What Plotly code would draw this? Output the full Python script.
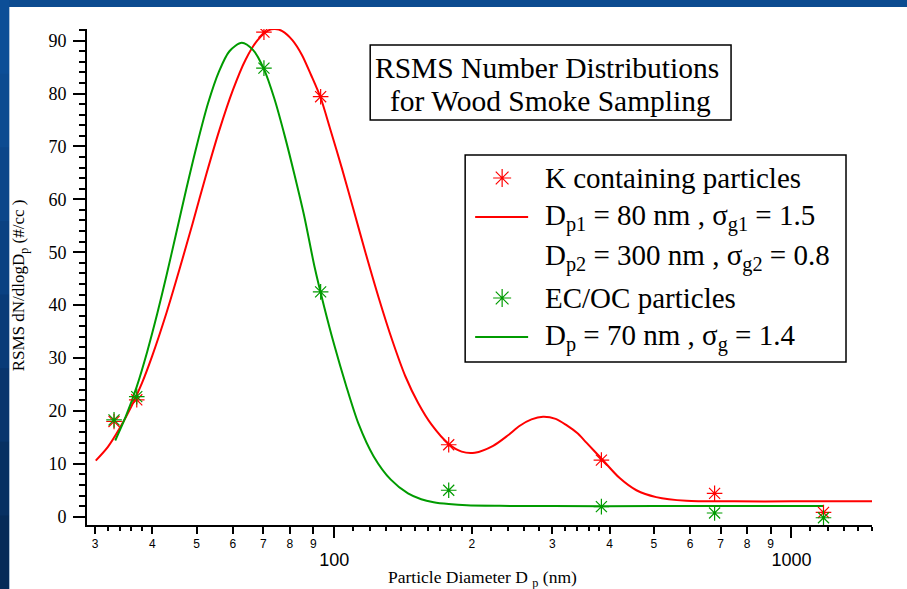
import plotly.graph_objects as go

# Measured RSMS number distributions (diameter in nm, dN/dlogDp in #/cc)
k_diam = [33.0, 37.0, 70.2, 93.4, 178, 384, 679, 1175]
k_conc = [18.0, 22.1, 91.6, 79.4, 13.6, 10.7, 4.4, 0.8]
ecoc_diam = [33.0, 37.0, 70.2, 93.4, 178, 384, 679, 1175]
ecoc_conc = [18.3, 22.7, 84.8, 42.5, 5.0, 1.9, 0.7, -0.2]

# Bimodal lognormal fit for K containing particles
k_fit_diam = [30.1, 32, 34, 36, 38, 40, 43, 46, 49, 52.5, 56, 60, 64, 68, 72,
              74.2, 77, 81, 85, 89, 93.4, 98, 104, 110, 117, 125, 134, 143,
              152.6, 163.3, 177.8, 190, 203, 222.6, 240, 254.6, 270, 286.2,
              305, 322.1, 340, 356.1, 384, 421, 458, 506, 589, 750, 1000, 1500]
k_fit_conc = [10.6, 13.2, 16.8, 20.8, 25.3, 30.4, 38.6, 47.1, 55.4, 64.7, 72.9,
              80.6, 86.4, 90.1, 92.0, 92.2, 91.8, 90.1, 87.3, 83.5, 79.2, 73.3,
              65.8, 58.3, 50.0, 41.5, 33.3, 26.6, 21.5, 17.4, 13.8, 12.3, 12.1,
              13.4, 15.4, 17.2, 18.4, 18.9, 18.5, 17.3, 15.8, 14.0, 11.0, 7.3,
              5.0, 3.7, 3.0, 2.9, 2.9, 2.9]

# Single-mode lognormal fit for EC/OC particles
ecoc_fit_diam = [33.2, 35, 37, 39, 41, 43, 45, 47.5, 50, 53, 56, 59, 62.8, 66.5,
                 70.2, 74, 78, 82, 86, 90.7, 95, 100, 106, 113, 122, 133, 145,
                 155, 165, 178, 195, 230, 300, 500, 800, 1175]
ecoc_fit_conc = [14.4, 18.9, 24.6, 31.2, 38.3, 45.7, 53.1, 62.0, 70.0, 78.2,
                 84.2, 88.0, 89.6, 88.2, 84.6, 79.0, 71.9, 64.4, 56.8, 47.0,
                 39.8, 32.5, 25.0, 17.6, 11.4, 7.0, 4.4, 3.3, 2.75, 2.4, 2.15,
                 2.05, 2.0, 2.0, 2.0, 2.0]

# Axis ticks
x_label_vals = [30, 40, 50, 60, 70, 80, 90, 200, 300, 400, 500, 600, 700, 800, 900]
x_label_text = ["3", "4", "5", "6", "7", "8", "9", "2", "3", "4", "5", "6", "7", "8", "9"]
x_minor_vals = [32, 34, 36, 38, 110, 120, 130, 140, 150, 160, 170, 180, 190,
                220, 240, 260, 280, 320, 340, 360, 380, 1100, 1200, 1300, 1400, 1500]
x_decade_vals = [100, 1000]
x_decade_text = ["100", "1000"]

legend_rows = [
    ("K containing particles", "marker", "red"),
    ("D<sub>p1</sub> = 80 nm , σ<sub>g1</sub> = 1.5", "line", "red"),
    ("D<sub>p2</sub> = 300 nm , σ<sub>g2</sub> = 0.8", None, None),
    ("EC/OC particles", "marker", "green"),
    ("D<sub>p</sub> = 70 nm , σ<sub>g</sub> = 1.4", "line", "green"),
]

RED = "#ff0000"
GREEN = "#009b00"
SERIF = "Liberation Serif, Times New Roman, serif"
SANS = "Liberation Sans, Arial, sans-serif"
COLORS = {"red": RED, "green": GREEN}

# slide background shades, top to bottom along the left edge
slide_blues = ["#0c4e97", "#0c4b91", "#0b468a", "#0a4182", "#093b78",
               "#08356d", "#073062", "#062b58"]

W, H = 907, 589
L, R, T, B = 86.7, 872.0, 29.0, 525.0   # plot area edges in pixels
X_RANGE = [1.4594, 3.1761]               # log10(nm)
Y_RANGE = [-1.57, 92.2]


def px(xp):
    return (xp - L) / (R - L)


def py(yp):
    return (B - yp) / (B - T)


fig = go.Figure()

fig.add_trace(go.Scatter(x=k_fit_diam, y=k_fit_conc, mode="lines",
                         line=dict(color=RED, width=2, shape="spline", smoothing=0.8),
                         showlegend=False))
fig.add_trace(go.Scatter(x=ecoc_fit_diam, y=ecoc_fit_conc, mode="lines",
                         line=dict(color=GREEN, width=2, shape="spline", smoothing=0.8),
                         showlegend=False))
fig.add_trace(go.Scatter(x=k_diam, y=k_conc, mode="markers",
                         marker=dict(symbol="asterisk-open", size=13, color=RED,
                                     line=dict(color=RED, width=1.2)),
                         showlegend=False))
fig.add_trace(go.Scatter(x=ecoc_diam, y=ecoc_conc, mode="markers",
                         marker=dict(symbol="asterisk-open", size=13, color=GREEN,
                                     line=dict(color=GREEN, width=1.2)),
                         showlegend=False))
# carrier for the decade tick axis
fig.add_trace(go.Scatter(x=[100], y=[None], xaxis="x2", yaxis="y",
                         mode="markers", showlegend=False, hoverinfo="skip"))

shapes = []
# darkening blue bands along the left edge of the slide
band_h = H / len(slide_blues)
for i, col in enumerate(slide_blues):
    shapes.append(dict(type="rect", xref="paper", yref="paper", x0=px(-5), x1=px(9),
                       y0=py(i * band_h), y1=py((i + 1) * band_h + 1),
                       fillcolor=col, line=dict(width=0), layer="below"))

# Legend drawn inside a framed box
leg_x0, leg_x1, leg_y0, leg_y1 = 465, 846, 155, 362
row_y = [178, 217, 257, 298, 337]
shapes += [
    # white page on the blue slide
    dict(type="rect", xref="paper", yref="paper", x0=px(9), x1=px(W + 5),
         y0=py(7), y1=py(H + 5), fillcolor="white", line=dict(width=0), layer="below"),
    # title frame
    dict(type="rect", xref="paper", yref="paper", x0=px(370), x1=px(731),
         y0=py(45), y1=py(120), line=dict(color="black", width=1.5),
         fillcolor="white", layer="below"),
    # legend frame
    dict(type="rect", xref="paper", yref="paper", x0=px(leg_x0), x1=px(leg_x1),
         y0=py(leg_y0), y1=py(leg_y1), line=dict(color="black", width=1.5),
         fillcolor="white", layer="below"),
]
annotations = []
mk_x, mk_y, mk_c = [], [], []
for (text, kind, col), yy in zip(legend_rows, row_y):
    annotations.append(dict(xref="paper", yref="paper", x=px(543), y=py(yy),
                            xanchor="left", yanchor="middle", text=text,
                            showarrow=False, font=dict(family=SERIF, size=29, color="black")))
    if kind == "line":
        shapes.append(dict(type="line", xref="paper", yref="paper",
                           x0=px(475), x1=px(528), y0=py(yy), y1=py(yy),
                           line=dict(color=COLORS[col], width=2)))
    elif kind == "marker":
        mk_x.append(px(502))
        mk_y.append(py(yy))
        mk_c.append(COLORS[col])

fig.add_trace(go.Scatter(x=mk_x, y=mk_y, xaxis="x3", yaxis="y3", mode="markers",
                         marker=dict(symbol="asterisk-open", size=15, color=mk_c,
                                     line=dict(color=mk_c, width=1.2)),
                         showlegend=False, hoverinfo="skip"))

# Title lines
annotations.append(dict(xref="paper", yref="paper", x=px(373), y=py(68),
                        xanchor="left", yanchor="middle", showarrow=False,
                        text="RSMS Number Distributions",
                        font=dict(family=SERIF, size=29.5, color="black")))
annotations.append(dict(xref="paper", yref="paper", x=px(388), y=py(101),
                        xanchor="left", yanchor="middle", showarrow=False,
                        text="for Wood Smoke Sampling",
                        font=dict(family=SERIF, size=29.5, color="black")))

# Axis titles
annotations.append(dict(xref="paper", yref="paper", x=px(482), y=py(578),
                        xanchor="center", yanchor="middle", showarrow=False,
                        text="Particle Diameter D <sub>p</sub> (nm)",
                        font=dict(family=SERIF, size=17.5, color="black")))
annotations.append(dict(xref="paper", yref="paper", x=px(20), y=py(285),
                        xanchor="center", yanchor="middle", showarrow=False,
                        textangle=-90,
                        text="RSMS dN/dlogD<sub>p</sub> (#/cc )",
                        font=dict(family=SERIF, size=17, color="black")))

fig.update_layout(
    width=W, height=H, autosize=False,
    margin=dict(l=L, r=W - R, t=T, b=H - B, pad=0),
    paper_bgcolor="#0c4b90", plot_bgcolor="rgba(0,0,0,0)",
    showlegend=False,
    shapes=shapes, annotations=annotations,
    xaxis=dict(type="log", range=X_RANGE, showgrid=False, zeroline=False,
               showline=True, linecolor="black", linewidth=2,
               ticks="outside", ticklen=7, tickwidth=1.5, tickcolor="black",
               tickmode="array", tickvals=x_label_vals, ticktext=x_label_text,
               tickfont=dict(family=SANS, size=12, color="black"),
               minor=dict(tickmode="array", tickvals=x_minor_vals, ticks="outside",
                          ticklen=4, tickwidth=1.5, tickcolor="black", showgrid=False),
               anchor="y"),
    xaxis2=dict(type="log", range=X_RANGE, overlaying="x", anchor="y", side="bottom",
                showgrid=False, zeroline=False, showline=False,
                ticks="outside", ticklen=12, tickwidth=2, tickcolor="black",
                tickmode="array", tickvals=x_decade_vals, ticktext=x_decade_text,
                tickfont=dict(family=SANS, size=18, color="black"),
                ticklabelstandoff=6),
    yaxis=dict(range=Y_RANGE, showgrid=False, zeroline=False,
               showline=True, linecolor="black", linewidth=2,
               ticks="outside", ticklen=12, tickwidth=2, tickcolor="black",
               tickmode="linear", tick0=0, dtick=10,
               tickfont=dict(family=SERIF, size=18, color="black"),
               ticklabelstandoff=3,
               minor=dict(dtick=2, tick0=0, ticks="outside", ticklen=6,
                          tickwidth=1.5, tickcolor="black", showgrid=False),
               anchor="x"),
    xaxis3=dict(domain=[0, 1], range=[0, 1], visible=False, overlaying="x", anchor="y3"),
    yaxis3=dict(domain=[0, 1], range=[0, 1], visible=False, overlaying="y", anchor="x3"),
)

fig.write_html("out.html")
